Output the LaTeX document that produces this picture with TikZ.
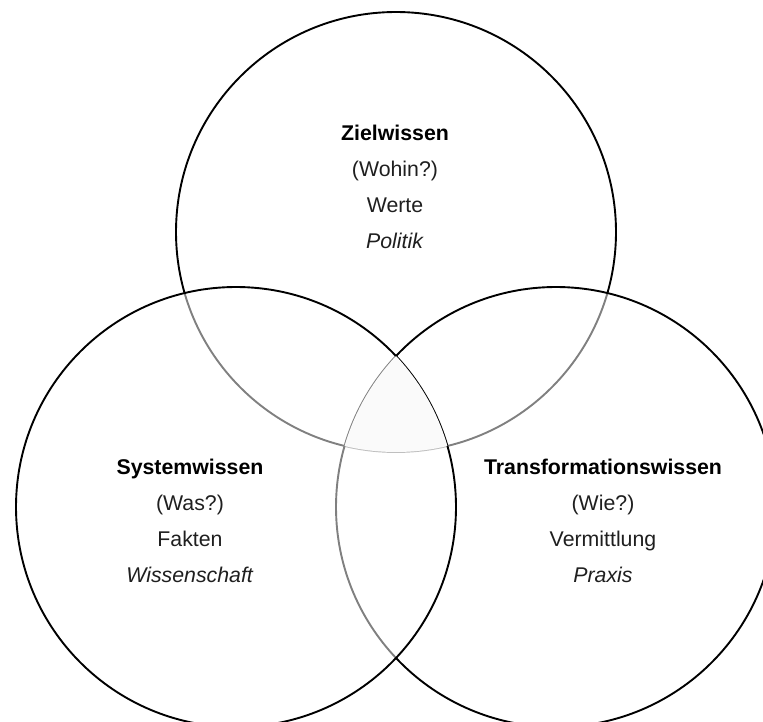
\documentclass[tikz,border=0pt]{standalone}
\usepackage{fontspec}
\setmainfont{Liberation Sans}
\begin{document}
\begin{tikzpicture}[x=1pt,y=-1pt,
  ring/.style={circle, draw=black, line width=1.9pt, fill=white,
    fill opacity=0.5, draw opacity=1, minimum size=440pt, inner sep=0pt},
  txt/.style={align=center, text=black!88, inner sep=0pt,
    font=\fontsize{21.3}{35.8}\selectfont}]
\useasboundingbox (0,0) rectangle (763,722);
\clip (0,0) rectangle (763,722);
% the three knowledge circles, later ones veil the earlier outlines
\node[ring] (ziel)  at (396,232) {};
\node[ring] (trans) at (556,507) {};
\node[ring] (sys)   at (236,507) {};
% faint tint where all three overlap
\begin{scope}
  \clip (ziel.center) circle[radius=220pt];
  \clip (trans.center) circle[radius=220pt];
  \fill[black!2] (sys.center) circle[radius=220pt];
\end{scope}
% texts
\node[txt] (zieltext) at (395,187)
  {\textbf{\color{black}Zielwissen}\\(Wohin?)\\Werte\\\textit{Politik}};
\node[txt] (systext) at (190,521)
  {\textbf{\color{black}Systemwissen}\\(Was?)\\Fakten\\\textit{Wissenschaft}};
\node[txt] (transtext) at (603,521)
  {\textbf{\color{black}Transformationswissen}\\(Wie?)\\Vermittlung\\\textit{Praxis}};
\end{tikzpicture}
\end{document}
